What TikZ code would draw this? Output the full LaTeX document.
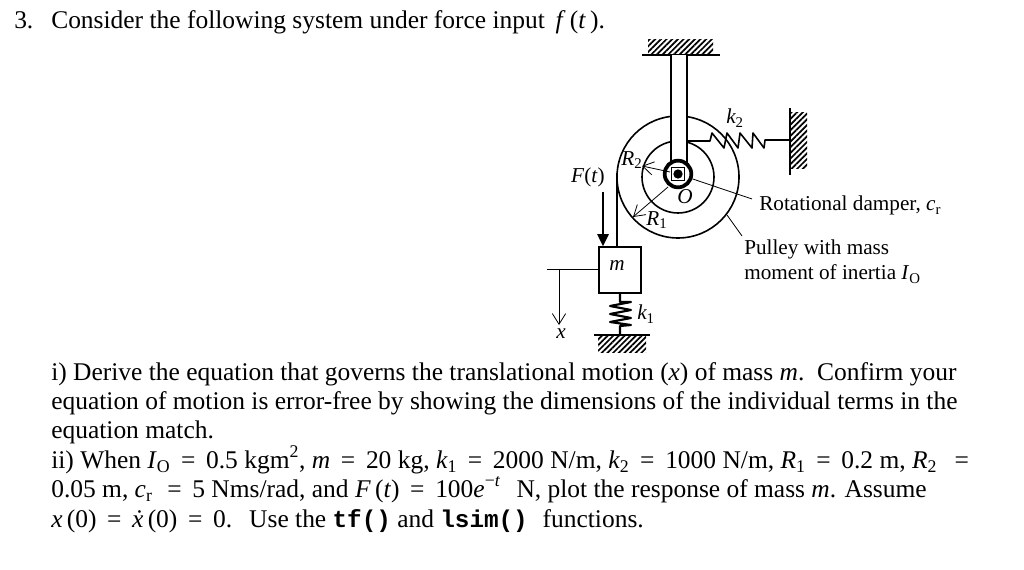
\documentclass[tikz,border=0pt]{standalone}
\usepackage{fontspec}
\setmainfont{Liberation Serif}
\setmonofont{Liberation Mono}
\usetikzlibrary{arrows.meta,patterns.meta}
\newcommand{\sym}[1]{\textit{#1}}
\newcommand{\low}[2]{\textit{#1}\textsubscript{#2}}
\newcommand{\eqs}{\hspace{8pt}=\hspace{8pt}}
\newcommand{\code}[1]{{\fontsize{18.2}{20}\selectfont\ttfamily\bfseries #1}}
\tikzset{
  body/.style={anchor=base west, inner sep=0pt, font=\fontsize{19.1}{22}\selectfont},
  note/.style={anchor=base west, inner sep=0pt, font=\fontsize{15.9}{18}\selectfont},
  symb/.style={inner sep=0pt, font=\fontsize{15.9}{18}\selectfont\itshape},
  thick line/.style={line width=1.2pt},
  thin line/.style={line width=0.6pt},
  coil/.style={line join=round},
  hatch/.style={pattern={Lines[angle=45, distance=3pt, line width=1.3pt]}},
  open tip/.style={-{Straight Barb[length=8pt, width=10pt]}}
}
\begin{document}
\begin{tikzpicture}[x=0.75pt, y=-0.75pt]
  \useasboundingbox (0, 0) rectangle (1024, 570);

  \node [body] (number) at (14, 29) {3.};
  \node [body] (task) at (51, 29) {Consider the following system under force input \,\sym{f}\,(\sym{t}\,).};

  % walls
  \fill [hatch] (648, 40) rectangle (713, 55);
  \coordinate (top left) at (642, 55);
  \coordinate (top right) at (720, 55);
  \draw [thick line] (top left) -- (top right);
  \fill [hatch] (790, 113) rectangle (807, 169);
  \coordinate (wall top) at (790, 108);
  \coordinate (wall bottom) at (790, 175);
  \draw [thick line] (wall top) -- (wall bottom);
  \fill [hatch] (598, 335) rectangle (646, 352);
  \coordinate (floor left) at (594, 335);
  \coordinate (floor right) at (650, 335);
  \draw [thick line] (floor left) -- (floor right);

  % pulley
  \node [circle, draw, thick line, inner sep=0pt, minimum size=91.5pt] (outer) at (678, 177) {};
  \node [circle, draw, thick line, inner sep=0pt, minimum size=54pt] (inner) at (678, 177) {};
  \draw [thick line, fill=white] (671, 55) -- (671, 182) -- (687, 182) -- (687, 55);
  \node [circle, draw, line width=2.8pt, fill=white, inner sep=0pt, minimum size=20pt] (hub) at (678, 174) {};
  \node [draw, thin line, inner sep=0pt, minimum size=10pt] (bearing) at (678, 174) {};
  \node [circle, fill=black, inner sep=0pt, minimum size=7pt] (pin) at (678, 174) {};

  % spring k2
  \draw [thick line, coil] (687, 141) -- (710, 141) -- (712, 133) -- (724, 148) -- (727, 133) -- (738, 148)
    -- (740, 133) -- (752, 148) -- (753, 133) -- (764, 148) -- (765, 140) -- (wall top |- 0, 140);
  \node [symb] (ktwo) at (735, 118) {k\textsubscript{\textup{2}}};

  % mass
  \node [draw, thick line, inner sep=0pt, minimum width=31.5pt, minimum height=34.5pt] (mass) at (620, 270) {};
  \node [symb] (mlabel) at (617, 266) {m};
  \coordinate (rope) at (617, 173);
  \draw [thick line] (rope) -- (rope |- mass.north);
  \coordinate (force) at (603, 192);
  \draw [thick line, -{Triangle[length=9pt, width=8.5pt]}] (force) -- (force |- mass.north);
  \node [symb] (flabel) at (588, 177) {F\textup{(}t\textup{)}};

  % displacement
  \coordinate (xstart) at (547, 269);
  \coordinate (xtop) at (559, 269);
  \coordinate (xend) at (559, 325);
  \draw [thin line] (xstart) -- (mass.west |- xstart);
  \draw [thin line, open tip] (xtop) -- (xend);
  \node [symb] (xlabel) at (561, 334) {x};

  % spring k1
  \draw [line width=1.6pt, coil] (mass.south) -- (620, 302) -- (631, 302) -- (610, 306) -- (631, 310) -- (610, 314)
    -- (631, 318) -- (610, 322) -- (631, 325) -- (620, 326) -- (620, 335);
  \node [symb] (kone) at (646, 314) {k\textsubscript{\textup{1}}};

  % radii
  \coordinate (rtwo) at (642, 166);
  \coordinate (rone) at (633, 217);
  \draw [thin line, open tip] (670, 172) -- (rtwo);
  \draw [thin line, open tip] (668, 187) -- (rone);
  \node [symb] (rtwolabel) at (632, 160) {R\textsubscript{\textup{2}}};
  \node [symb] (ronelabel) at (657, 220) {R\textsubscript{\textup{1}}};
  \node [symb] (olabel) at (685, 197) {O};

  % leaders
  \coordinate (damper end) at (752, 199);
  \coordinate (pulley start) at (727, 215);
  \coordinate (pulley end) at (742, 236);
  \draw [thin line] (hub) -- (damper end);
  \draw [thin line] (pulley start) -- (pulley end);
  \node [note] (damper) at (759, 211) {Rotational damper, \low{c}{r}};
  \node [note] (pulley one) at (744, 255) {Pulley with mass};
  \node [note] (pulley two) at (744, 280) {moment of inertia \low{I}{O}};

  \node [body] (line one) at (51, 380) {i) Derive the equation that governs the translational motion (\sym{x}) of mass \sym{m}.\ \ Confirm your};
  \node [body] (line two) at (51, 409) {equation of motion is error-free by showing the dimensions of the individual terms in the};
  \node [body] (line three) at (51, 438) {equation match.};
  \node [body] (line four) at (51, 468) {ii) When \low{I}{O}\eqs 0.5 kgm\textsuperscript{2}, \sym{m}\eqs 20 kg, \low{k}{1}\eqs 2000 N/m, \low{k}{2}\eqs 1000 N/m, \low{R}{1}\eqs 0.2 m, \low{R}{2}\hspace{5pt}\eqs};
  \node [body] (line five) at (51, 497) {0.05 m, \low{c}{r}\hspace{3pt}\eqs 5 Nms/rad, and \sym{F}\,(\sym{t})\eqs 100\sym{e}\textsuperscript{\textminus\sym{t}}\hspace{7pt} N, plot the response of mass \sym{m}. Assume};
  \node [body] (line six) at (51, 527) {\sym{x}\,(0)\eqs\sym{\.x}\,(0)\eqs 0.\,\ \ Use the \code{tf()} and \code{lsim()}\,\, functions.};
\end{tikzpicture}
\end{document}
